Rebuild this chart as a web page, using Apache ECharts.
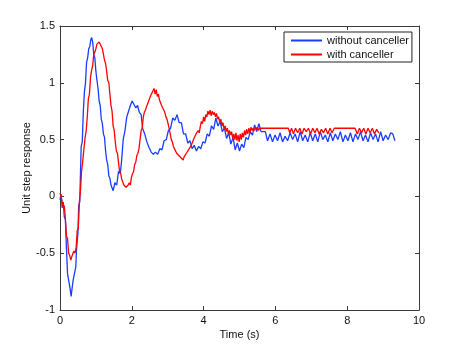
<!DOCTYPE html>
<html>
<head>
<meta charset="utf-8">
<script src="https://cdn.jsdelivr.net/npm/echarts@6/dist/echarts.min.js"></script>
<style>
	html, body { margin: 0; padding: 0; background: #fff; }
	#chart { width: 463px; height: 348px; }
</style>
</head>
<body>
<div id="chart"></div>
<script>
// 图例名称
var seriesNames = ['without canceller', 'with canceller'];

// 坐标轴刻度
var xTicks = [0, 2, 4, 6, 8, 10];
var yTicks = [-1, -0.5, 0, 0.5, 1, 1.5];

// without canceller  [时间, 响应]
var withoutCanceller = [
	[0.00, -0.03], [0.03, 0.02], [0.06, -0.10], [0.09, -0.05], [0.12, -0.18], [0.15, -0.20],
	[0.18, -0.46], [0.21, -0.68], [0.25, -0.69], [0.28, -0.81], [0.31, -0.88], [0.34, -0.80],
	[0.37, -0.73], [0.41, -0.72], [0.44, -0.62], [0.46, -0.47], [0.50, -0.32], [0.52, -0.08],
	[0.55, -0.05], [0.57, 0.20], [0.59, 0.44], [0.62, 0.48], [0.65, 0.75], [0.68, 0.92],
	[0.71, 1.00], [0.74, 1.18], [0.77, 1.22], [0.80, 1.30], [0.83, 1.32], [0.86, 1.38],
	[0.88, 1.40], [0.91, 1.36], [0.94, 1.25], [0.97, 1.22], [1.00, 1.10], [1.03, 1.02],
	[1.06, 0.95], [1.09, 0.84], [1.12, 0.80], [1.15, 0.68], [1.18, 0.64], [1.21, 0.55],
	[1.24, 0.52], [1.27, 0.40], [1.30, 0.32], [1.33, 0.28], [1.36, 0.18], [1.39, 0.16],
	[1.42, 0.10], [1.45, 0.09], [1.48, 0.05], [1.53, 0.12], [1.58, 0.10], [1.63, 0.22],
	[1.68, 0.20], [1.72, 0.33], [1.76, 0.50], [1.81, 0.58], [1.86, 0.70], [1.91, 0.75],
	[1.96, 0.80], [2.01, 0.84], [2.06, 0.84], [2.11, 0.78], [2.16, 0.80], [2.21, 0.74],
	[2.26, 0.72], [2.30, 0.60], [2.36, 0.55], [2.42, 0.48], [2.48, 0.43], [2.54, 0.39],
	[2.60, 0.37], [2.66, 0.39], [2.72, 0.37], [2.78, 0.42], [2.84, 0.41], [2.90, 0.49],
	[2.96, 0.50], [3.02, 0.58], [3.08, 0.60], [3.14, 0.69], [3.20, 0.67], [3.26, 0.72],
	[3.32, 0.65], [3.38, 0.65], [3.44, 0.55], [3.50, 0.55], [3.56, 0.47], [3.62, 0.49],
	[3.68, 0.42], [3.74, 0.45], [3.80, 0.40], [3.86, 0.44], [3.92, 0.42], [3.98, 0.48],
	[4.04, 0.47], [4.10, 0.55], [4.16, 0.53], [4.22, 0.62], [4.28, 0.59], [4.34, 0.69],
	[4.40, 0.62], [4.46, 0.66], [4.52, 0.57], [4.58, 0.60], [4.64, 0.51], [4.70, 0.56],
	[4.76, 0.46], [4.82, 0.52], [4.88, 0.41], [4.94, 0.47], [5.00, 0.40], [5.06, 0.46],
	[5.12, 0.43], [5.18, 0.52], [5.24, 0.50], [5.30, 0.57], [5.36, 0.54], [5.42, 0.63],
	[5.48, 0.57], [5.54, 0.64], [5.60, 0.57], [5.66, 0.57], [5.72, 0.57], [5.78, 0.49],
	[5.85, 0.55], [5.92, 0.48], [5.99, 0.54], [6.06, 0.49], [6.13, 0.56], [6.20, 0.48],
	[6.27, 0.53], [6.34, 0.49], [6.41, 0.56], [6.48, 0.50], [6.55, 0.55], [6.62, 0.48],
	[6.69, 0.57], [6.76, 0.49], [6.83, 0.54], [6.90, 0.48], [6.97, 0.56], [7.04, 0.49],
	[7.11, 0.55], [7.18, 0.48], [7.25, 0.57], [7.32, 0.50], [7.39, 0.54], [7.46, 0.48],
	[7.53, 0.56], [7.60, 0.49], [7.67, 0.55], [7.74, 0.50], [7.81, 0.57], [7.88, 0.48],
	[7.95, 0.54], [8.02, 0.49], [8.09, 0.56], [8.16, 0.48], [8.23, 0.55], [8.30, 0.50],
	[8.37, 0.57], [8.44, 0.49], [8.51, 0.54], [8.58, 0.48], [8.65, 0.56], [8.72, 0.50],
	[8.79, 0.55], [8.86, 0.48], [8.93, 0.57], [9.00, 0.49], [9.07, 0.54], [9.14, 0.50],
	[9.21, 0.56], [9.27, 0.55], [9.33, 0.49]
];

// with canceller  [时间, 响应]
var withCanceller = [
	[0.00, 0.03], [0.03, 0.00], [0.06, -0.05], [0.09, -0.10], [0.12, -0.08], [0.15, -0.20],
	[0.18, -0.35], [0.21, -0.37], [0.24, -0.50], [0.27, -0.52], [0.30, -0.56], [0.33, -0.53],
	[0.36, -0.50], [0.39, -0.48], [0.42, -0.50], [0.45, -0.45], [0.48, -0.30], [0.51, -0.28],
	[0.54, -0.05], [0.57, 0.05], [0.60, 0.22], [0.63, 0.30], [0.66, 0.40], [0.70, 0.52],
	[0.73, 0.58], [0.76, 0.70], [0.79, 0.86], [0.82, 0.90], [0.85, 1.05], [0.88, 1.11],
	[0.91, 1.15], [0.94, 1.25], [0.97, 1.27], [1.00, 1.30], [1.03, 1.34], [1.06, 1.33],
	[1.09, 1.36], [1.12, 1.34], [1.15, 1.35], [1.18, 1.30], [1.21, 1.31], [1.24, 1.20],
	[1.27, 1.17], [1.30, 1.10], [1.33, 1.02], [1.36, 1.00], [1.39, 0.90], [1.42, 0.80],
	[1.45, 0.75], [1.48, 0.62], [1.51, 0.58], [1.54, 0.48], [1.57, 0.40], [1.60, 0.38],
	[1.63, 0.30], [1.66, 0.22], [1.69, 0.20], [1.72, 0.15], [1.75, 0.14], [1.78, 0.10],
	[1.81, 0.11], [1.84, 0.08], [1.87, 0.07], [1.90, 0.10], [1.93, 0.12], [1.96, 0.10],
	[1.99, 0.17], [2.02, 0.20], [2.05, 0.22], [2.08, 0.28], [2.11, 0.30], [2.14, 0.36],
	[2.17, 0.38], [2.20, 0.42], [2.23, 0.50], [2.26, 0.58], [2.29, 0.60], [2.32, 0.70],
	[2.35, 0.74], [2.38, 0.76], [2.41, 0.79], [2.44, 0.80], [2.47, 0.84], [2.50, 0.83],
	[2.53, 0.89], [2.56, 0.88], [2.59, 0.93], [2.62, 0.95], [2.65, 0.90], [2.68, 0.94],
	[2.71, 0.88], [2.74, 0.90], [2.77, 0.85], [2.80, 0.84], [2.83, 0.80], [2.86, 0.81],
	[2.89, 0.76], [2.92, 0.74], [2.95, 0.70], [2.98, 0.68], [3.01, 0.64], [3.04, 0.60],
	[3.07, 0.55], [3.10, 0.50], [3.13, 0.48], [3.16, 0.44], [3.19, 0.42], [3.22, 0.40],
	[3.25, 0.38], [3.28, 0.39], [3.31, 0.36], [3.34, 0.37], [3.37, 0.34], [3.40, 0.35],
	[3.43, 0.32], [3.46, 0.35], [3.49, 0.34], [3.52, 0.38], [3.55, 0.37], [3.58, 0.41],
	[3.61, 0.40], [3.64, 0.44], [3.67, 0.46], [3.70, 0.45], [3.73, 0.51], [3.76, 0.50],
	[3.79, 0.55], [3.82, 0.54], [3.85, 0.58], [3.88, 0.56], [3.91, 0.62], [3.94, 0.66],
	[3.97, 0.64], [4.00, 0.70], [4.03, 0.66], [4.06, 0.72], [4.09, 0.70], [4.12, 0.75],
	[4.15, 0.72], [4.18, 0.76], [4.21, 0.71], [4.24, 0.75], [4.27, 0.72], [4.30, 0.74],
	[4.33, 0.70], [4.36, 0.73], [4.39, 0.68], [4.42, 0.70], [4.45, 0.65], [4.48, 0.68],
	[4.51, 0.62], [4.54, 0.65], [4.57, 0.59], [4.60, 0.62], [4.63, 0.57], [4.66, 0.60],
	[4.69, 0.55], [4.72, 0.58], [4.75, 0.54], [4.78, 0.57], [4.81, 0.51], [4.84, 0.55],
	[4.87, 0.50], [4.90, 0.56], [4.93, 0.49], [4.96, 0.54], [4.99, 0.48], [5.02, 0.55],
	[5.05, 0.50], [5.08, 0.56], [5.11, 0.52], [5.14, 0.58], [5.17, 0.54], [5.20, 0.59],
	[5.23, 0.55], [5.26, 0.60], [5.29, 0.56], [5.32, 0.61], [5.35, 0.58], [5.38, 0.60],
	[5.41, 0.58], [5.44, 0.61], [5.47, 0.59], [5.50, 0.61], [5.53, 0.58], [5.56, 0.60],
	[5.60, 0.60], [6.36, 0.60], [6.40, 0.56], [6.45, 0.60], [6.50, 0.55], [6.56, 0.60],
	[6.62, 0.56], [6.68, 0.60], [6.74, 0.55], [6.80, 0.60], [6.86, 0.57], [6.92, 0.60],
	[6.98, 0.55], [7.04, 0.60], [7.10, 0.56], [7.16, 0.60], [7.22, 0.55], [7.28, 0.59],
	[7.34, 0.56], [7.40, 0.60], [7.46, 0.55], [7.52, 0.60], [7.58, 0.56], [7.64, 0.60],
	[8.22, 0.60], [8.28, 0.55], [8.34, 0.60], [8.40, 0.56], [8.46, 0.60], [8.52, 0.55],
	[8.58, 0.60], [8.64, 0.56], [8.70, 0.60], [8.76, 0.55], [8.82, 0.59], [8.88, 0.56]
];

var fontName = '"Liberation Sans", Arial, sans-serif';
var axisColor = '#3a3a3a';

// 四周坐标框（内侧刻度）
function frameAxis(type, position, showLabel) {
	var isX = type === 'x';
	var ticks = isX ? xTicks : yTicks;
	return {
		type: 'value',
		position: position,
		min: ticks[0],
		max: ticks[ticks.length - 1],
		interval: isX ? 2 : 0.5,
		splitLine: { show: false },
		axisLine: { show: true, onZero: false, lineStyle: { color: axisColor, width: 1 } },
		axisTick: { show: true, inside: true, length: 4, lineStyle: { color: axisColor, width: 1 } },
		axisLabel: {
			show: showLabel,
			color: '#111',
			fontSize: 11,
			fontFamily: fontName,
			margin: 5
		}
	};
}

var xBottom = frameAxis('x', 'bottom', true);
xBottom.name = 'Time (s)';
xBottom.nameLocation = 'middle';
xBottom.nameGap = 19;
xBottom.nameMoveOverlap = false;
xBottom.nameTextStyle = { color: '#111', fontSize: 11, fontFamily: fontName };

var yLeft = frameAxis('y', 'left', true);
yLeft.name = 'Unit step response';
yLeft.nameLocation = 'middle';
yLeft.nameGap = 28;
yLeft.nameMoveOverlap = false;
yLeft.nameTextStyle = { color: '#111', fontSize: 11, fontFamily: fontName };

var chart = echarts.init(document.getElementById('chart'), null, { renderer: 'canvas' });

chart.setOption({
	animation: false,
	backgroundColor: '#fff',
	grid: { left: 60, top: 26, width: 359, height: 284, containLabel: false },
	xAxis: [xBottom, frameAxis('x', 'top', false)],
	yAxis: [yLeft, frameAxis('y', 'right', false)],
	legend: {
		data: seriesNames,
		orient: 'vertical',
		left: 284,
		top: 32,
		padding: [2, 3, 1, 7],
		itemGap: 1,
		itemWidth: 31,
		itemHeight: 2,
		icon: 'rect',
		backgroundColor: '#fff',
		borderColor: '#222',
		borderWidth: 1,
		textStyle: { color: '#111', fontSize: 11, lineHeight: 13, fontFamily: fontName }
	},
	series: [
		{
			name: seriesNames[0],
			type: 'line',
			data: withoutCanceller,
			showSymbol: false,
			symbol: 'none',
			color: '#1a3cff',
			lineStyle: { color: '#1a3cff', width: 1.3 },
			z: 2
		},
		{
			name: seriesNames[1],
			type: 'line',
			data: withCanceller,
			showSymbol: false,
			symbol: 'none',
			color: '#ff0000',
			lineStyle: { color: '#ff0000', width: 1.3 },
			z: 3
		}
	]
});
</script>
</body>
</html>
